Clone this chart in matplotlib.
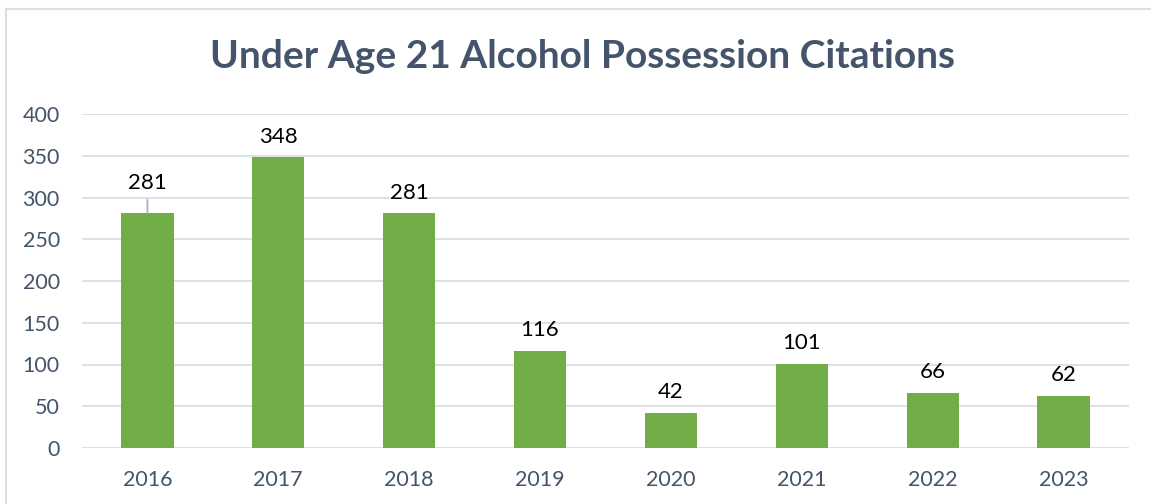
import matplotlib
matplotlib.use("Agg")
import matplotlib.pyplot as plt
from matplotlib.patches import Rectangle

years = ["2016", "2017", "2018", "2019", "2020", "2021", "2022", "2023"]
citations = [281, 348, 281, 116, 42, 101, 66, 62]
yticks = [0, 50, 100, 150, 200, 250, 300, 350, 400]
title = "Under Age 21 Alcohol Possession Citations"

plt.rcParams['font.family'] = ['Lato', 'DejaVu Sans']

W, H = 1151, 504
fig = plt.figure(figsize=(W/100, H/100), dpi=100)
fig.patches.append(Rectangle((6/W, -0.1), 1.2, 1 - 9/H + 0.1, transform=fig.transFigure,
                             fill=False, edgecolor='#D9DEE6', linewidth=1.5))

ax = fig.add_axes([82/W, 1 - 448/H, (1129-82)/W, (448-114)/H])
x = list(range(len(years)))
bars = ax.bar(x, citations, width=0.40, color='#70AD47', zorder=3)
ax.set_xlim(-0.5, len(years) - 0.5)
ax.set_ylim(0, 400)
ax.set_yticks(yticks)
ax.set_xticks(x)
ax.set_xticklabels(years)
ax.grid(axis='y', color='#D9DEE6', linewidth=1.3, zorder=0)
for s in ax.spines.values():
    s.set_visible(False)
ax.tick_params(axis='both', length=0, labelsize=15.5, labelcolor='#44546A')
ax.tick_params(axis='y', pad=16)
ax.tick_params(axis='x', pad=16)

for i, v in enumerate(citations):
    if i == 0:
        ax.annotate(str(v), xy=(i, v), xytext=(0, 22), textcoords='offset points',
                    ha='center', va='center', fontsize=16, color='black',
                    arrowprops=dict(arrowstyle='-', color='#A6B3C6', lw=1.3, shrinkA=3, shrinkB=0))
    else:
        ax.annotate(str(v), xy=(i, v), xytext=(0, 15), textcoords='offset points',
                    ha='center', va='center', fontsize=16, color='black')

fig.text(582/W, 1 - 57/H, title, ha='center', va='center', fontsize=28,
         fontweight='bold', color='#44546A')

fig.savefig("out.png", dpi=100)
